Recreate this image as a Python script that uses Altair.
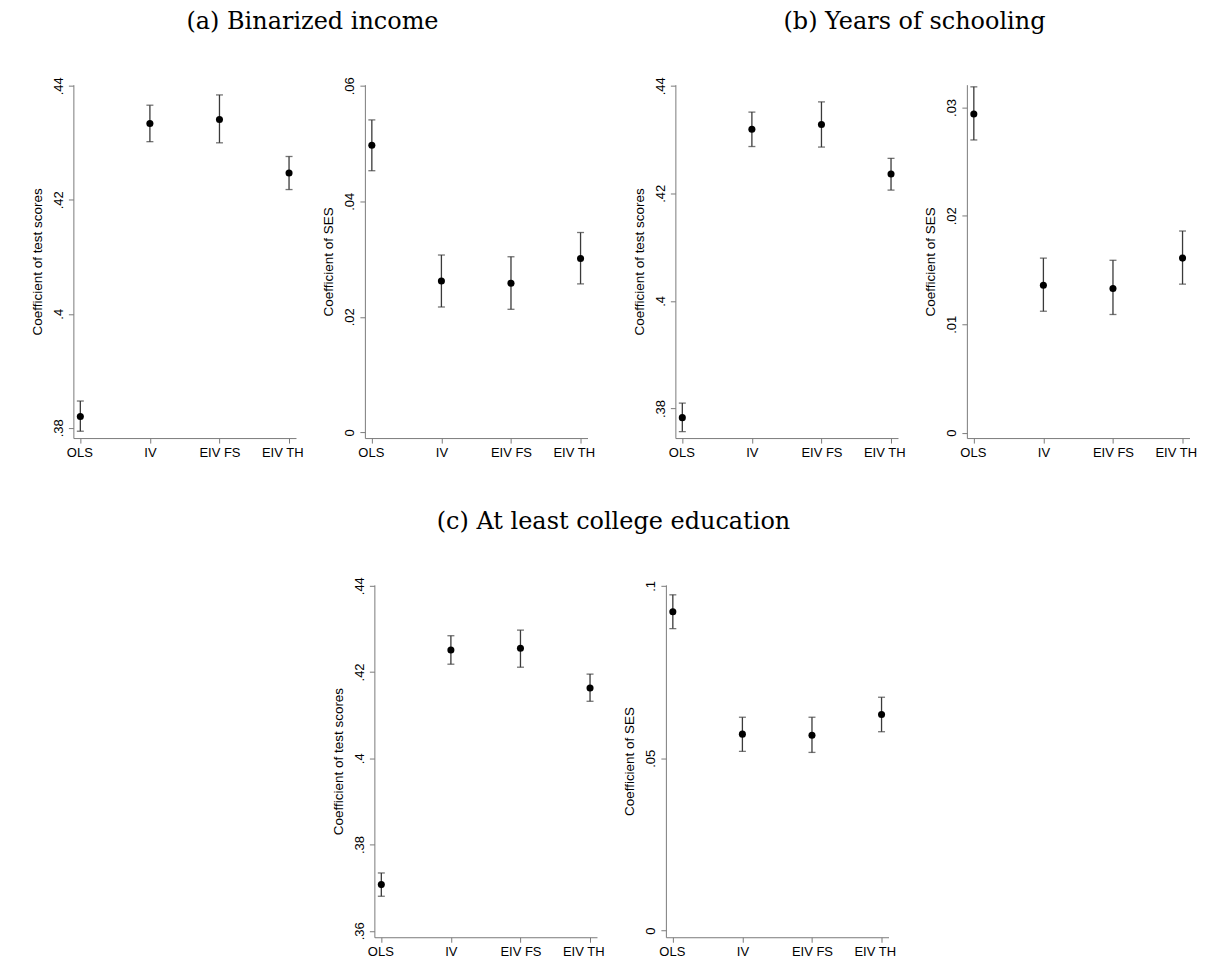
import altair as alt
import pandas as pd

methods = ["OLS", "IV", "EIV FS", "EIV TH"]

# (a) Binarized income
a_test_est = [0.3820, 0.4334, 0.4341, 0.4247]
a_test_lo = [0.3794, 0.4302, 0.4300, 0.4218]
a_test_hi = [0.3847, 0.4366, 0.4384, 0.4276]
a_ses_est = [0.0497, 0.0262, 0.0258, 0.0301]
a_ses_lo = [0.0453, 0.0217, 0.0213, 0.0257]
a_ses_hi = [0.0541, 0.0307, 0.0304, 0.0346]

# (b) Years of schooling
b_test_est = [0.3783, 0.4319, 0.4328, 0.4236]
b_test_lo = [0.3757, 0.4287, 0.4286, 0.4206]
b_test_hi = [0.3810, 0.4351, 0.4370, 0.4265]
b_ses_est = [0.0294, 0.0136, 0.0133, 0.0161]
b_ses_lo = [0.0270, 0.0112, 0.0109, 0.0137]
b_ses_hi = [0.0319, 0.0161, 0.0159, 0.0186]

# (c) At least college education
c_test_est = [0.3707, 0.4251, 0.4255, 0.4163]
c_test_lo = [0.3680, 0.4218, 0.4211, 0.4132]
c_test_hi = [0.3734, 0.4284, 0.4297, 0.4195]
c_ses_est = [0.0925, 0.0570, 0.0567, 0.0627]
c_ses_lo = [0.0876, 0.0520, 0.0517, 0.0577]
c_ses_hi = [0.0974, 0.0619, 0.0619, 0.0677]

titles = ["(a) Binarized income", "(b) Years of schooling", "(c) At least college education"]
ylab_test = "Coefficient of test scores"
ylab_ses = "Coefficient of SES"

W = 223
H = 354
LABEL_EXPR = "datum.value == 0 ? '0' : substring(format(datum.value, '.2~f'), 1)"


def panel(est, lo, hi, ytitle, domain, ticks, height=H):
    df = pd.DataFrame({"method": methods, "est": est, "lo": lo, "hi": hi})
    x = alt.X("method:N", sort=methods, title=None,
              scale=alt.Scale(type="point", padding=0.1),
              axis=alt.Axis(labelAngle=0, tickSize=5, labelPadding=3,
                            labelFlush=9, labelFlushOffset=14,
                            domainColor="#7a7a7a", tickColor="#7a7a7a"))
    yscale = alt.Scale(domain=domain, nice=False, zero=False)
    yaxis = alt.Axis(values=ticks, labelExpr=LABEL_EXPR, labelAngle=270,
                     labelAlign="center", labelBaseline="bottom",
                     tickSize=5, labelPadding=3, title=ytitle, titlePadding=8,
                     grid=False, domainColor="#7a7a7a", tickColor="#7a7a7a")
    base = alt.Chart(df)
    rule = base.mark_rule(color="#3a3a3a", strokeWidth=1.3).encode(
        x=x, y=alt.Y("lo:Q", scale=yscale, axis=yaxis), y2="hi:Q")
    cap_lo = base.mark_tick(color="#3a3a3a", size=7, thickness=1.3, orient="horizontal").encode(
        x=x, y=alt.Y("lo:Q"))
    cap_hi = base.mark_tick(color="#3a3a3a", size=7, thickness=1.3, orient="horizontal").encode(
        x=x, y=alt.Y("hi:Q"))
    pts = base.mark_circle(color="black", opacity=1, size=50).encode(
        x=x, y=alt.Y("est:Q"))
    return alt.layer(rule, cap_lo, cap_hi, pts).properties(width=W, height=height)


a1 = panel(a_test_est, a_test_lo, a_test_hi, ylab_test, [0.3782, 0.4402], [0.38, 0.40, 0.42, 0.44])
a2 = panel(a_ses_est, a_ses_lo, a_ses_hi, ylab_ses, [-0.001, 0.0602], [0, 0.02, 0.04, 0.06])
b1 = panel(b_test_est, b_test_lo, b_test_hi, ylab_test, [0.3745, 0.4402], [0.38, 0.40, 0.42, 0.44])
b2 = panel(b_ses_est, b_ses_lo, b_ses_hi, ylab_ses, [-0.0005, 0.0321], [0, 0.01, 0.02, 0.03])
c1 = panel(c_test_est, c_test_lo, c_test_hi, ylab_test, [0.3585, 0.4402], [0.36, 0.38, 0.40, 0.42, 0.44], 353)
c2 = panel(c_ses_est, c_ses_lo, c_ses_hi, ylab_ses, [-0.0019, 0.1003], [0, 0.05, 0.1], 353)

tparams = dict(font="DejaVu Serif", fontSize=24, fontWeight="normal", anchor="middle",
               color="black", offset=43)

groupA = alt.hconcat(a1, a2, spacing=18).properties(
    title=alt.TitleParams(titles[0], **tparams))
groupB = alt.hconcat(b1, b2, spacing=18).properties(
    title=alt.TitleParams(titles[1], **tparams))
row1 = alt.hconcat(groupA, groupB, spacing=37)
row2 = alt.hconcat(c1, c2, spacing=18).properties(
    title=alt.TitleParams(titles[2], **tparams))

chart = alt.vconcat(row1, row2, spacing=50, center=True).properties(
    padding={"left": 22, "top": 1, "right": 0, "bottom": 0},
    background="white"
).configure_view(stroke=None).configure_axis(
    labelFont="Liberation Sans", titleFont="Liberation Sans",
    labelFontSize=13, titleFontSize=13.5, labelColor="black", titleColor="black",
    titleFontWeight="normal", grid=False
)

chart.save("out.html", embed_options={"renderer": "svg", "actions": False})
